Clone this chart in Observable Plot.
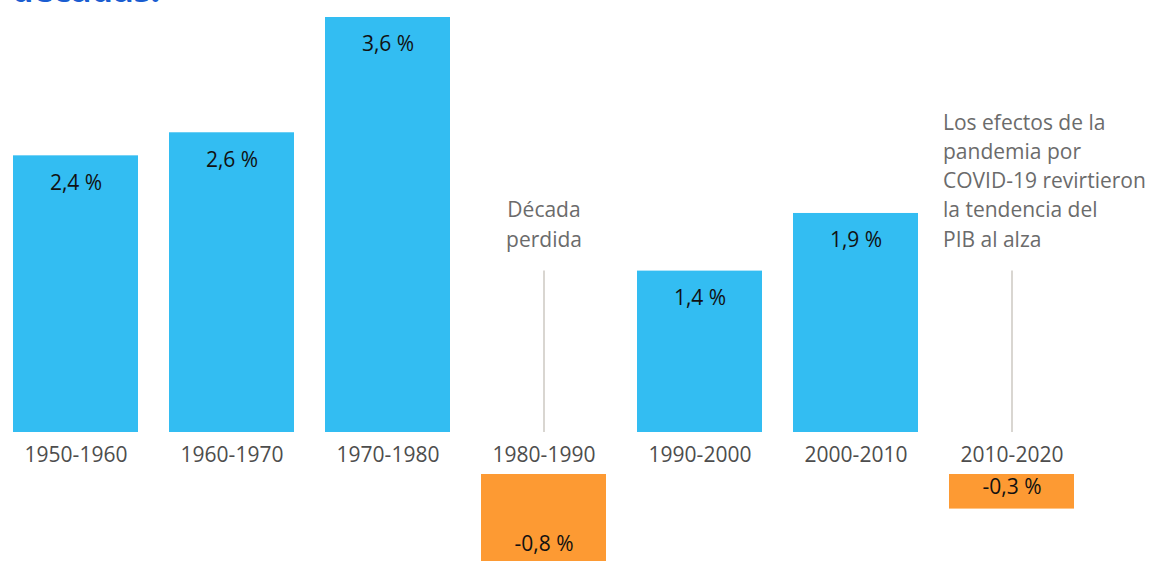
<!DOCTYPE html>
<html><head><meta charset="utf-8">
<script src="https://cdn.jsdelivr.net/npm/d3@7"></script>
<script src="https://cdn.jsdelivr.net/npm/@observablehq/plot@0.6"></script>
<style>
body{margin:0;background:#fff;overflow:hidden;font-family:"Open Sans",sans-serif;}
#wrap{position:relative;width:1149px;height:561px;overflow:hidden;}
#title{position:absolute;left:12px;top:-28px;font-size:34px;line-height:34px;font-weight:700;color:#1a5dd1;margin:0;white-space:nowrap}
#chart{position:absolute;left:0;top:0}
</style></head><body>
<div id="wrap"><div id="title">décadas.</div><div id="chart"></div></div>
<script>
const decades = ["1950-1960","1960-1970","1970-1980","1980-1990","1990-2000","2000-2010","2010-2020"];
const growth = [2.4, 2.6, 3.6, -0.8, 1.4, 1.9, -0.3];
const notePerdida = {decade: "1980-1990", text: "Década\nperdida"};
const notePandemia = {decade: "2010-2020", text: "Los efectos de la\npandemia por\nCOVID-19 revirtieron\nla tendencia del\nPIB al alza"};

const data = decades.map((d, i) => ({decade: d, value: growth[i], label: String(growth[i]).replace(".", ",") + " %"}));
const pos = data.filter(d => d.value >= 0);
const neg = data.filter(d => d.value < 0);

const chart = Plot.plot({
  width: 1149, height: 561,
  marginLeft: 12, marginRight: 75, marginTop: 17, marginBottom: 129,
  style: {fontFamily: "'Open Sans', sans-serif", fontSize: "21px", background: "transparent"},
  x: {domain: decades, paddingInner: 0.2, paddingOuter: 0},
  y: {domain: [0, 3.6], axis: null},
  marks: [
    Plot.ruleX([notePerdida, notePandemia], {x: "decade", y1: 0, y2: 1.4, stroke: "#d9d6d1", strokeWidth: 2}),
    Plot.barY(pos, {x: "decade", y: "value", fill: "#33bdf2"}),
    Plot.barY(neg, {x: "decade", y: "value", fill: "#fd9a33", dy: 42}),
    Plot.text(pos, {x: "decade", y: "value", text: "label", dy: 27, fontSize: 21, fill: "#111"}),
    Plot.text(neg, {x: "decade", y: "value", text: "label", dy: 20, fontSize: 21, fill: "#111"}),
    Plot.text([notePerdida], {x: "decade", y: 1.82, text: "text", fontSize: 21, lineHeight: 1.39, fill: "#6b6b6b"}),
    Plot.text([notePandemia], {x: "decade", y: 2.20, text: "text", fontSize: 21, lineHeight: 1.39, textAnchor: "start", dx: -69, fill: "#6b6b6b"}),
    Plot.axisX({tickSize: 0, tickPadding: 15, fontSize: 21, color: "#4d4d4d", label: null})
  ]
});
document.getElementById("chart").appendChild(chart);
</script>
</body></html>
